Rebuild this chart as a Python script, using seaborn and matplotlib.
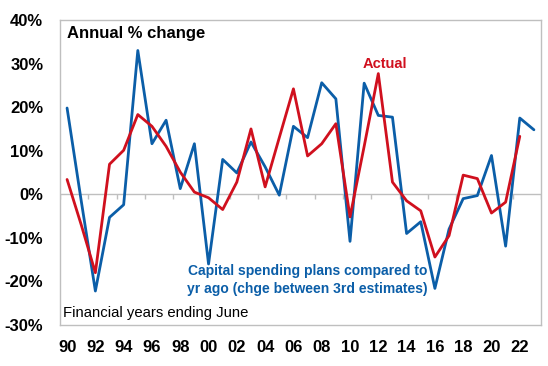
import matplotlib
matplotlib.use("Agg")
import matplotlib.pyplot as plt
import seaborn as sns
import numpy as np
import pandas as pd

# ---- data ----
years = list(range(1990, 2024))
capex_plans = [19.8, -1.5, -22.2, -5.3, -2.4, 33.0, 11.6, 17.0, 1.3, 11.6,
               -16.0, 8.0, 4.9, 12.0, 6.3, -0.2, 15.6, 13.0, 25.6, 21.9,
               -10.8, 25.5, 18.1, 17.7, -9.0, -6.3, -21.6, -8.0, -1.0, -0.3,
               8.9, -11.9, 17.5, 14.8]
actual = [3.4, -7.0, -18.0, 6.9, 10.1, 18.3, 15.6, 11.0, 5.1, 0.5,
          -0.8, -3.5, 2.8, 15.0, 1.7, 13.0, 24.2, 8.8, 11.6, 16.2,
          -5.2, 11.0, 27.7, 2.8, -1.5, -3.8, -14.4, -9.5, 4.4, 3.6,
          -4.3, -1.8, 13.3, np.nan]
y_ticks = [-30, -20, -10, 0, 10, 20, 30, 40]
y_tick_labels = [f"{v}%" for v in y_ticks]
x_tick_labels = [f"{y % 100:02d}" for y in years[::2]]

BLUE = "#0B5EA8"
RED = "#D0101E"
GREY = "#BFBFBF"

sns.set_theme(style="white")
plt.rcParams["font.family"] = ["Liberation Sans", "DejaVu Sans"]

df = pd.DataFrame({"idx": np.arange(len(years)), "year": years,
                   "plans": capex_plans, "actual": actual})

fig = plt.figure(figsize=(5.48, 3.66), dpi=100)
ax = fig.add_axes([60 / 548, 1 - 325 / 366, 481 / 548, 305 / 366])

ax.axhline(0, color=GREY, lw=1.0, zorder=1)
# category tick marks on the zero line (every two categories)
tick_pos = np.arange(-0.5, len(years), 2)
ax.vlines(tick_pos, -1.0, 0, color=GREY, lw=1.0, zorder=1)

sns.lineplot(data=df, x="idx", y="plans", color=BLUE, lw=2.0, ax=ax, zorder=3)
sns.lineplot(data=df.dropna(), x="idx", y="actual", color=RED, lw=2.0, ax=ax, zorder=4)

ax.set_xlim(-0.5, len(years) - 0.5)
ax.set_ylim(-30, 40)
ax.set_yticks(y_ticks)
ax.set_yticklabels(y_tick_labels, fontsize=12, fontweight="bold")
ax.set_xticks(np.arange(0, len(years), 2))
ax.set_xticklabels(x_tick_labels, fontsize=12, fontweight="bold")
ax.tick_params(axis="y", length=0, pad=12, colors="black")
ax.tick_params(axis="x", length=0, pad=11, colors="black")
ax.set_xlabel("")
ax.set_ylabel("")
for s in ax.spines.values():
    s.set_color(GREY)
    s.set_linewidth(1.0)

ax.text(0.0146, 0.957, "Annual % change", transform=ax.transAxes,
        fontsize=12, fontweight="bold", ha="left", va="center", color="black")
ax.text(22.45, 30.0, "Actual", fontsize=10.5, fontweight="bold",
        color=RED, ha="center", va="center")
ax.text(17.0, -19.7, "Capital spending plans compared to\nyr ago (chge between 3rd estimates)",
        fontsize=10, fontweight="bold", color=BLUE, ha="center", va="center",
        linespacing=1.3)
ax.text(0.006, 0.039, "Financial years ending June", transform=ax.transAxes,
        fontsize=10.7, ha="left", va="center", color="black")

fig.savefig("out.png", dpi=100)
